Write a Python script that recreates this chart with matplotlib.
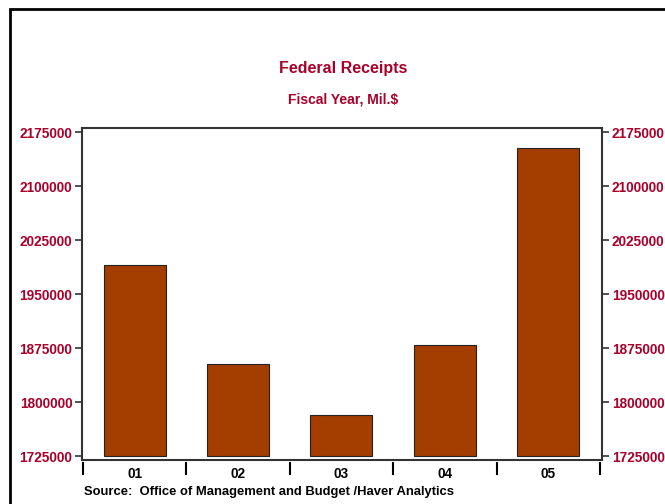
"""Federal receipts bar chart, Haver-style frame (matplotlib PNG)."""

import matplotlib.pyplot as plt
import matplotlib.patches as mpatches
import matplotlib.transforms as mtransforms
import numpy as np

plt.rcParams['font.family'] = ['Liberation Sans', 'DejaVu Sans']
plt.rcParams['font.weight'] = 'bold'

# Data
years = ["01", "02", "03", "04", "05"]
receipts = [1991082, 1853136, 1782314, 1880114, 2153611]
y_ticks = [1725000, 1800000, 1875000, 1950000, 2025000, 2100000, 2175000]
base = 1725000

RED = '#A8002A'
BAR = '#A33D00'

fig = plt.figure(figsize=(6.65, 5.04), dpi=100)
W, H = 665, 504

# Outer frame (open to the right and bottom)
frame = mpatches.Rectangle((10 / W, -0.2), 1.2, 1.2 - 9 / H,
                           transform=fig.transFigure, fill=False,
                           edgecolor='black', linewidth=2)
fig.patches.append(frame)

ax = fig.add_axes([82 / W, 1 - 460 / H, (602 - 82) / W, (460 - 128) / H])

x = np.arange(len(years))
vals = np.array(receipts) - base
ax.bar(x, vals, bottom=base, width=0.6, color=BAR,
       edgecolor='#222222', linewidth=0.8)

ax.set_xlim(-0.51, len(years) - 0.48)
ax.set_ylim(1720000, 2180970)

ax.set_yticks(y_ticks)
ax.set_yticklabels([str(v) for v in y_ticks])
ax.tick_params(axis='y', which='both', left=True, right=True,
               labelleft=True, labelright=True, length=5, width=1.2,
               direction='out', pad=2, labelsize=9.8, labelcolor=RED,
               color='#333333')
for lbl in ax.get_yticklabels():
    lbl.set_fontweight('bold')

ax.set_xticks(x)
ax.set_xticklabels(years, fontsize=9.8, fontweight='bold')
ax.tick_params(axis='x', length=0, pad=5)

for sp in ax.spines.values():
    sp.set_linewidth(1.5)
    sp.set_color('#333333')

# Category divider ticks below the axis
trans = mtransforms.blended_transform_factory(ax.transData, ax.transAxes)
for b in np.arange(len(years) + 1) - 0.5:
    ax.plot([b, b], [-0.009, -0.042], transform=trans, color='black',
            linewidth=1.5, clip_on=False)

fig.text(343 / W, 1 - 68 / H, "Federal Receipts", ha='center', va='center',
         fontsize=11.5, fontweight='bold', color=RED)
fig.text(343 / W, 1 - 100 / H, "Fiscal Year, Mil.$", ha='center', va='center',
         fontsize=10, fontweight='bold', color=RED)
fig.text(84 / W, 1 - 492 / H,
         "Source:  Office of Management and Budget /Haver Analytics",
         ha='left', va='center', fontsize=9.35, fontweight='bold', color='black')

fig.savefig('out.png', dpi=100)
plt.close(fig)
